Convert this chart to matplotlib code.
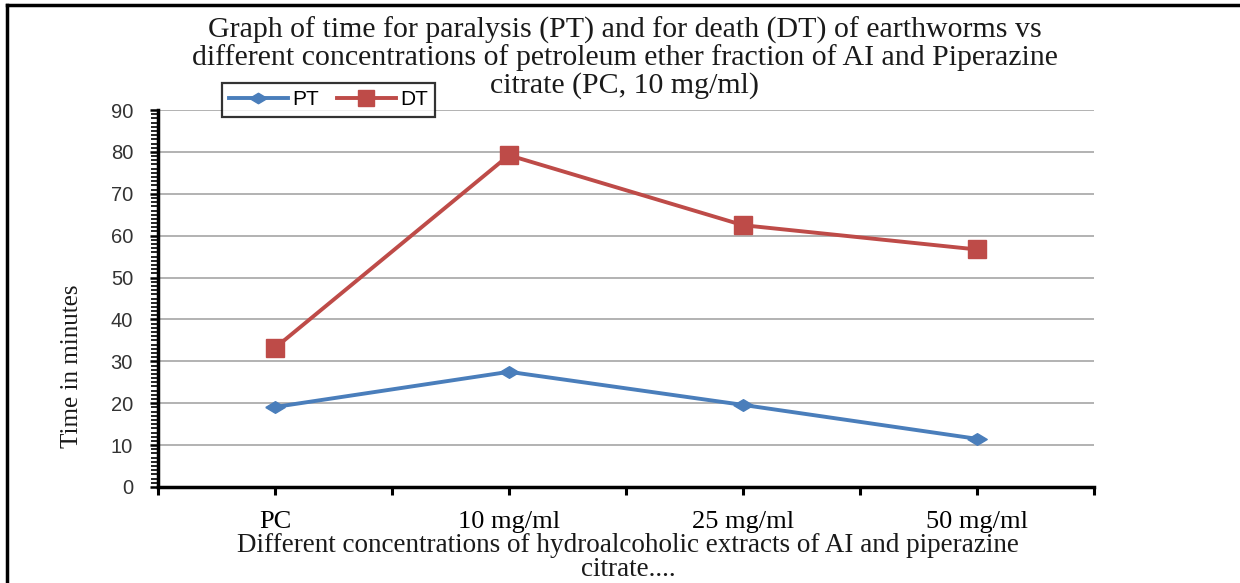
import matplotlib
matplotlib.use("Agg")
import matplotlib.pyplot as plt
from matplotlib.lines import Line2D
from matplotlib.ticker import MultipleLocator

# Data
categories = ["PC", "10 mg/ml", "25 mg/ml", "50 mg/ml"]
pt_values = [19.1, 27.5, 19.6, 11.5]
dt_values = [33.2, 79.2, 62.5, 56.7]
y_ticks = [0, 10, 20, 30, 40, 50, 60, 70, 80, 90]

title_lines = ["Graph of time for paralysis (PT) and for death (DT) of earthworms vs",
               "different concentrations of petroleum ether fraction of AI and Piperazine",
               "citrate (PC, 10 mg/ml)"]
xlabel_lines = ["Different concentrations of hydroalcoholic extracts of AI and piperazine",
                "citrate...."]
ylabel_text = "Time in minutes"

blue = "#4A7EBB"
red = "#BE4B48"
serif = "Liberation Serif"
sans = "Liberation Sans"

W, H = 1240, 583
fig = plt.figure(figsize=(W / 100, H / 100), dpi=100)
ax = fig.add_axes([158 / W, 1 - 487 / H, (1094 - 158) / W, (487 - 110) / H])

x = list(range(len(categories)))

# flat diamond marker like the Excel one
diamond = [(-1, 0), (0, 0.6), (1, 0), (0, -0.6), (-1, 0)]

ax.plot(x, pt_values, color=blue, lw=2.8, marker=diamond, markersize=14,
        markerfacecolor=blue, markeredgecolor=blue, label="PT", zorder=3)
ax.plot(x, dt_values, color=red, lw=2.8, marker="s", markersize=13,
        markerfacecolor=red, markeredgecolor=red, label="DT", zorder=3)

ax.set_xlim(-0.5, len(categories) - 0.5)
ax.set_ylim(0, 90)

# ticks
ax.set_yticks(y_ticks)
ax.yaxis.set_minor_locator(MultipleLocator(1))
ax.set_xticks(x)
ax.set_xticklabels(categories, family=serif, fontsize=19)
ax.xaxis.set_minor_locator(MultipleLocator(0.5))
ax.tick_params(axis="x", which="both", direction="out", length=6, width=2.2,
               color="black", pad=11)
ax.tick_params(axis="y", which="major", direction="out", length=6, width=1.8,
               labelsize=14.5, pad=12)
ax.tick_params(axis="y", which="minor", direction="out", length=5, width=1.2)
for lbl in ax.get_yticklabels():
    lbl.set_family(sans)
    lbl.set_color("#333333")

ax.grid(axis="y", which="major", color="#A6A6A6", lw=1.2)
ax.set_axisbelow(True)

for side in ["top", "right"]:
    ax.spines[side].set_visible(False)
for side in ["left", "bottom"]:
    ax.spines[side].set_linewidth(2.5)
    ax.spines[side].set_color("black")

# title, one text per line so the spacing follows the reference
for i, line in enumerate(title_lines):
    fig.text(625 / W, 1 - (30 + 28 * i) / H, line, ha="center", va="center",
             family=serif, fontsize=21.5, color="#1a1a1a")

for i, line in enumerate(xlabel_lines):
    fig.text(628 / W, 1 - (546 + 23 * i) / H, line, ha="center", va="center",
             family=serif, fontsize=19.5, color="#1a1a1a")

fig.text(72 / W, 1 - 366 / H, ylabel_text, ha="center", va="center", rotation=90,
         family=serif, fontsize=18, color="#1a1a1a")

# legend
leg = ax.legend(loc="upper left", bbox_to_anchor=(222 / W, 1 - 83 / H),
                bbox_transform=fig.transFigure, borderaxespad=0, ncol=2,
                frameon=True, fancybox=False, edgecolor="black",
                handlelength=2.8, columnspacing=0.9, handletextpad=0.2,
                borderpad=0.35, markerscale=0.9,
                prop={"family": sans, "size": 15})
leg.get_frame().set_linewidth(1.6)

# outer frame of the original picture
fig.add_artist(Line2D([7 / W, 1], [1 - 5 / H, 1 - 5 / H], color="black", lw=2.5))
fig.add_artist(Line2D([7 / W, 7 / W], [0, 1 - 5 / H], color="black", lw=2.5))

fig.savefig("out.png", dpi=100)
